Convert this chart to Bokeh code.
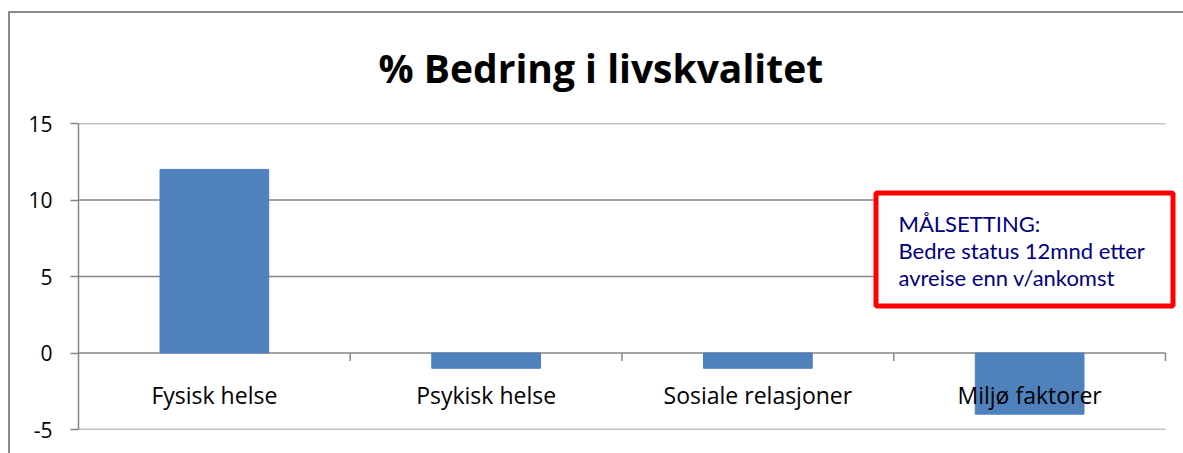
from bokeh.plotting import figure
from bokeh.models import (ColumnDataSource, FixedTicker, Label, BoxAnnotation,
                          Range1d, PrintfTickFormatter)
from bokeh.core.properties import value
from bokeh.embed import file_html
from bokeh.resources import INLINE

# ---- data ----
categories = ["Fysisk helse", "Psykisk helse", "Sosiale relasjoner", "Miljø faktorer"]
improvement = [12, -1, -1, -4]
y_ticks = [-5, 0, 5, 10, 15]
title_text = "% Bedring i livskvalitet"
goal_lines = ["MÅLSETTING:", "Bedre status 12mnd etter", "avreise enn v/ankomst"]

GRAY = "#868686"
FONT = "Open Sans"

n = len(categories)
pos = [i + 0.5 for i in range(n)]          # category centres
bounds = [i + 1 for i in range(n)]         # category boundaries

p = figure(width=1183, height=453, output_backend="svg", toolbar_location=None,
           x_range=Range1d(0, n * 1105 / 1087), y_range=Range1d(-5, 15),
           min_border_left=78, min_border_right=0, min_border_top=123,
           min_border_bottom=24)
p.outline_line_color = None
p.background_fill_color = None
p.border_fill_color = None
# outer chart border (left and top edges visible in the window)
p.styles = {
    "background-color": "white",
    "background-image": "linear-gradient(#8a8a8a,#8a8a8a), linear-gradient(#8a8a8a,#8a8a8a)",
    "background-position": "8px 11px, 8px 11px",
    "background-size": "2px 100%, 100% 2px",
    "background-repeat": "no-repeat",
}

p.title.text = title_text
p.title.align = "left"
p.title.offset = 300
p.title.text_font = FONT
p.title.text_font_size = "39px"
p.title.text_font_style = "bold"
p.title.text_color = "black"
p.title.standoff = 60

bars = ColumnDataSource(dict(x=pos, val=improvement, cat=categories, zero=[0] * n))
p.vbar(x="x", top="val", bottom=0, width=0.4, source=bars,
       fill_color="#4F81BD", line_color="#4F81BD")

# horizontal grid lines spanning the categories only
p.xaxis.visible = False
p.xgrid.visible = False
p.ygrid.visible = False
p.segment(x0=[0] * len(y_ticks), x1=[n] * len(y_ticks), y0=y_ticks, y1=y_ticks,
          line_color=GRAY, line_width=1.5, level="underlay")

ya = p.yaxis[0]
ya.ticker = FixedTicker(ticks=y_ticks)
ya.formatter = PrintfTickFormatter(format="%d")
ya.axis_line_color = GRAY
ya.axis_line_width = 1.5
ya.major_tick_line_color = GRAY
ya.major_tick_line_width = 1.5
ya.major_tick_out = 8
ya.major_tick_in = 0
ya.minor_tick_line_color = None
ya.major_label_text_font = FONT
ya.major_label_text_font_size = "21px"
ya.major_label_text_color = "black"
ya.major_label_standoff = 18

# category tick marks at boundaries, below the zero line
p.segment(x0=bounds, x1=bounds, y0=[0] * n, y1=[-0.52] * n,
          line_color=GRAY, line_width=1.5)

# category labels under the zero line
p.text(x="x", y="zero", text="cat", source=bars, text_align="center",
       text_baseline="alphabetic", y_offset=42, text_font=value(FONT),
       text_font_size="23px", text_color="black")

# goal box
p.add_layout(BoxAnnotation(left=875.5, right=1172.5, top=192.5, bottom=305.5,
                           left_units="canvas", right_units="canvas",
                           top_units="canvas", bottom_units="canvas",
                           fill_color="white", fill_alpha=1,
                           line_color="#FF0000", line_alpha=1, line_width=5))
for i, t in enumerate(goal_lines):
    p.add_layout(Label(x=820, y=206 - 27 * i, x_units="screen", y_units="screen",
                       text=t, text_align="left", text_baseline="alphabetic",
                       text_font="Lato", text_font_size="22px", text_color="#000080"))

open("out.html", "w").write(file_html(p, INLINE))
